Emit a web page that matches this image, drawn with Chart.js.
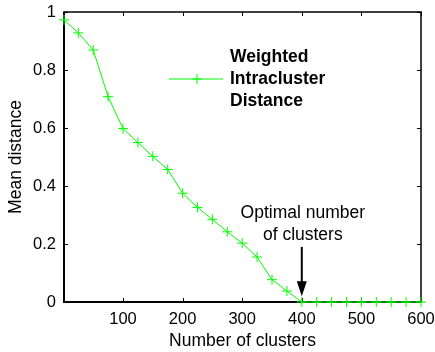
<!DOCTYPE html>
<html>
<head>
<meta charset="utf-8">
<script src="https://cdn.jsdelivr.net/npm/chart.js@4"></script>
<style>
  html, body { margin: 0; padding: 0; background: #fff; }
</style>
</head>
<body>
<canvas id="distChart" width="435" height="352"></canvas>
<script>
const clusters = [1, 25, 50, 75, 100, 125, 150, 175, 200, 225, 250, 275, 300,
  325, 350, 375, 400, 425, 450, 475, 500, 525, 550, 575, 600]
const meanDistance = [0.973, 0.928, 0.869, 0.708, 0.598, 0.550, 0.502, 0.457, 0.375,
  0.326, 0.285, 0.242, 0.203, 0.155, 0.077, 0.038, 0, 0, 0, 0, 0, 0, 0, 0, 0]
const xTicks = [100, 200, 300, 400, 500, 600]
const yTicks = [0, 0.2, 0.4, 0.6, 0.8, 1]
const seriesLabel = 'Weighted Intracluster Distance'
const noteLines = ['Optimal number', 'of clusters']
const optimalClusters = 400

const green = 'rgb(0,255,0)'
const fontFamily = '"Liberation Sans", Arial, Helvetica, sans-serif'

// box, inward ticks, legend and the arrow note, matlab style
const matlabAxes = {
  id: 'matlabAxes',
  beforeDatasetsDraw(chart) {
    const {ctx, chartArea: a, scales: {x, y}} = chart
    ctx.save()
    ctx.strokeStyle = '#000'
    ctx.lineWidth = 1
    ctx.beginPath()
    xTicks.forEach(v => {
      const px = Math.round(x.getPixelForValue(v)) + 0.5
      ctx.moveTo(px, a.bottom); ctx.lineTo(px, a.bottom - 4)
      ctx.moveTo(px, a.top); ctx.lineTo(px, a.top + 4)
    })
    yTicks.forEach(v => {
      const py = Math.round(y.getPixelForValue(v)) + 0.5
      ctx.moveTo(a.left, py); ctx.lineTo(a.left + 4, py)
      ctx.moveTo(a.right, py); ctx.lineTo(a.right - 4, py)
    })
    ctx.stroke()
    ctx.lineWidth = 1.5
    ctx.strokeRect(a.left, a.top, a.right - a.left, a.bottom - a.top)
    ctx.lineWidth = 2
    ctx.beginPath()
    ctx.moveTo(a.left, a.top); ctx.lineTo(a.left, a.bottom); ctx.lineTo(a.right, a.bottom)
    ctx.stroke()
    ctx.restore()
  },
  afterDraw(chart) {
    const {ctx, scales: {x, y}} = chart
    ctx.save()

    // legend
    const ly = 79
    ctx.strokeStyle = green
    ctx.lineWidth = 1
    ctx.beginPath()
    ctx.moveTo(169, ly); ctx.lineTo(223, ly)
    ctx.moveTo(197, ly - 5); ctx.lineTo(197, ly + 5)
    ctx.moveTo(192, ly); ctx.lineTo(202, ly)
    ctx.stroke()
    ctx.fillStyle = '#000'
    ctx.font = 'bold 17.5px ' + fontFamily
    ctx.textAlign = 'left'
    ctx.textBaseline = 'middle'
    seriesLabel.split(' ').forEach((w, i) => {
      ctx.fillText(w, 230, ly - 22 + i * 22)
    })

    // note + arrow
    const ax = x.getPixelForValue(optimalClusters)
    ctx.font = '17.5px ' + fontFamily
    ctx.textAlign = 'center'
    noteLines.forEach((t, i) => {
      ctx.fillText(t, ax + 1, y.getPixelForValue(0.308) + i * 22)
    })
    const tail = y.getPixelForValue(0.19)
    const tip = y.getPixelForValue(0.02)
    ctx.strokeStyle = '#000'
    ctx.lineWidth = 2
    ctx.beginPath()
    ctx.moveTo(ax, tail); ctx.lineTo(ax, tip - 12)
    ctx.stroke()
    ctx.beginPath()
    ctx.moveTo(ax - 5, tip - 15); ctx.lineTo(ax + 5, tip - 15); ctx.lineTo(ax, tip)
    ctx.closePath()
    ctx.fill()
    ctx.restore()
  }
}

new Chart(document.getElementById('distChart'), {
  type: 'line',
  data: {
    datasets: [{
      label: seriesLabel,
      data: clusters.map((c, i) => ({x: c, y: meanDistance[i]})),
      borderColor: green,
      backgroundColor: green,
      borderWidth: 1,
      pointStyle: 'cross',
      pointRadius: 5,
      pointBorderWidth: 1,
      pointBorderColor: green,
      tension: 0,
      clip: false
    }]
  },
  options: {
    responsive: false,
    animation: false,
    devicePixelRatio: 1,
    layout: {
      autoPadding: false,
      padding: {top: 12, right: 14, left: 0, bottom: 0}
    },
    plugins: {
      legend: {display: false},
      tooltip: {enabled: false}
    },
    scales: {
      x: {
        type: 'linear',
        min: 1,
        max: 600,
        afterBuildTicks: s => { s.ticks = xTicks.map(v => ({value: v})) },
        afterFit: s => {
          s.height = 50
          s.paddingLeft = 0
          s.paddingRight = 0
        },
        grid: {display: false, drawTicks: false},
        border: {display: false},
        ticks: {
          color: '#000',
          padding: 8,
          maxRotation: 0,
          font: {family: fontFamily, size: 16.5}
        },
        title: {
          display: true,
          text: 'Number of clusters',
          color: '#000',
          padding: 0,
          font: {family: fontFamily, size: 17.5}
        }
      },
      y: {
        min: 0,
        max: 1,
        afterBuildTicks: s => { s.ticks = yTicks.map(v => ({value: v})) },
        afterFit: s => {
          s.width = 64
          s.paddingTop = 0
          s.paddingBottom = 0
        },
        grid: {display: false, drawTicks: false},
        border: {display: false},
        ticks: {
          color: '#000',
          padding: 8,
          callback: v => String(v),
          font: {family: fontFamily, size: 16.5}
        },
        title: {
          display: true,
          text: 'Mean distance',
          color: '#000',
          padding: {top: 6, bottom: 0},
          font: {family: fontFamily, size: 17.5}
        }
      }
    }
  },
  plugins: [matlabAxes]
})
</script>
</body>
</html>
